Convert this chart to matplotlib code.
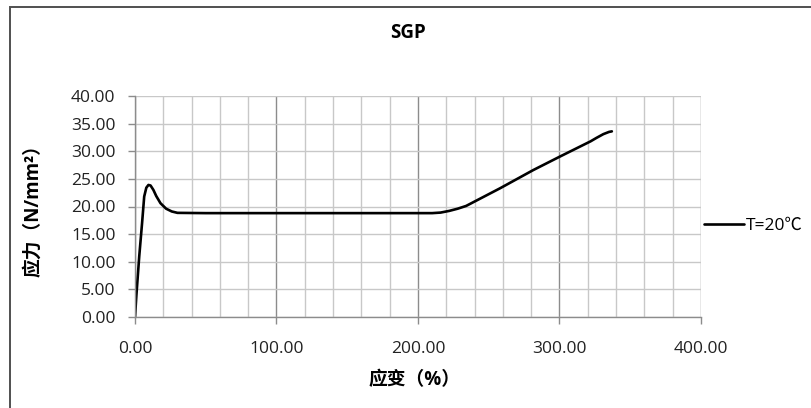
import numpy as np
import matplotlib
matplotlib.use("Agg")
import matplotlib.pyplot as plt
from matplotlib.patches import Rectangle
from matplotlib.ticker import MultipleLocator

# strain (%) and stress (N/mm2)
strain = [0, 1, 3, 5, 6.5, 8, 9.5, 11, 13, 15, 18, 22, 26, 30, 50, 100, 150,
          200, 210, 216, 222, 228, 234, 240, 258, 281.5, 300, 322, 326, 331,
          335, 337]
stress = [0, 4, 11, 17, 21.8, 23.4, 23.9, 23.8, 23.0, 21.9, 20.6, 19.6, 19.1,
          18.85, 18.8, 18.8, 18.8, 18.8, 18.8, 18.9, 19.2, 19.6, 20.1, 20.9,
          23.3, 26.6, 29.0, 31.8, 32.4, 33.1, 33.5, 33.6]
series_label = "T=20℃"
title = "SGP"
x_label = "应变（%）"
y_label = "应力（N/mm²）"

plt.rcParams["font.family"] = ["Open Sans", "Noto Sans CJK SC", "DejaVu Sans"]

W, H = 812, 408
fig = plt.figure(figsize=(W / 100, H / 100), dpi=100)
ax = fig.add_axes([135 / W, 1 - 317 / H, 566 / W, 221 / H])

# light minor grid, darker major vertical grid
ax.xaxis.set_major_locator(MultipleLocator(100))
ax.xaxis.set_minor_locator(MultipleLocator(20))
ax.yaxis.set_major_locator(MultipleLocator(5))
ax.grid(which="minor", axis="x", color="#c8c8c8", linewidth=1.0)
ax.grid(which="major", axis="x", color="#8c8c8c", linewidth=1.0)
ax.grid(which="major", axis="y", color="#c8c8c8", linewidth=1.0)
ax.set_axisbelow(True)

ax.plot(strain, stress, color="black", linewidth=1.9, label=series_label,
        solid_capstyle="round", solid_joinstyle="round")

ax.set_xlim(0, 400)
ax.set_ylim(0, 40)
ax.xaxis.set_major_formatter(lambda v, p: f"{v:.2f}")
ax.yaxis.set_major_formatter(lambda v, p: f"{v:.2f}")

for side in ["top", "right"]:
    ax.spines[side].set_visible(False)
for side in ["left", "bottom"]:
    ax.spines[side].set_color("#8c8c8c")
    ax.spines[side].set_linewidth(1.0)

ax.tick_params(which="major", axis="both", length=5, width=1.0, color="#8c8c8c",
               labelsize=12.5, labelcolor="#222222")
ax.tick_params(which="minor", length=0)
ax.tick_params(axis="x", pad=12)
ax.tick_params(axis="y", pad=9)

fig.text(408 / W, 1 - 33 / H, title, ha="center", va="center",
         fontsize=13.5, fontweight="bold")
fig.text(415 / W, 1 - 380 / H, x_label, ha="center", va="center",
         fontsize=13.5, fontweight="bold")
fig.text(33 / W, 1 - 206 / H, y_label, ha="center", va="center",
         fontsize=13.5, fontweight="bold", rotation=90)

fig.legend(loc="center left", bbox_to_anchor=(704 / W, 1 - 226 / H),
           frameon=False, fontsize=12.5, handlelength=2.3, handletextpad=0.1,
           borderpad=0, borderaxespad=0)

# chart-area border (runs off the right and bottom edges)
fig.add_artist(Rectangle((10 / W, -0.1), 1.2, 1 - 7 / H + 0.1,
                         transform=fig.transFigure, fill=False,
                         edgecolor="#505050", linewidth=1.4))

fig.savefig("out.png", dpi=100)
